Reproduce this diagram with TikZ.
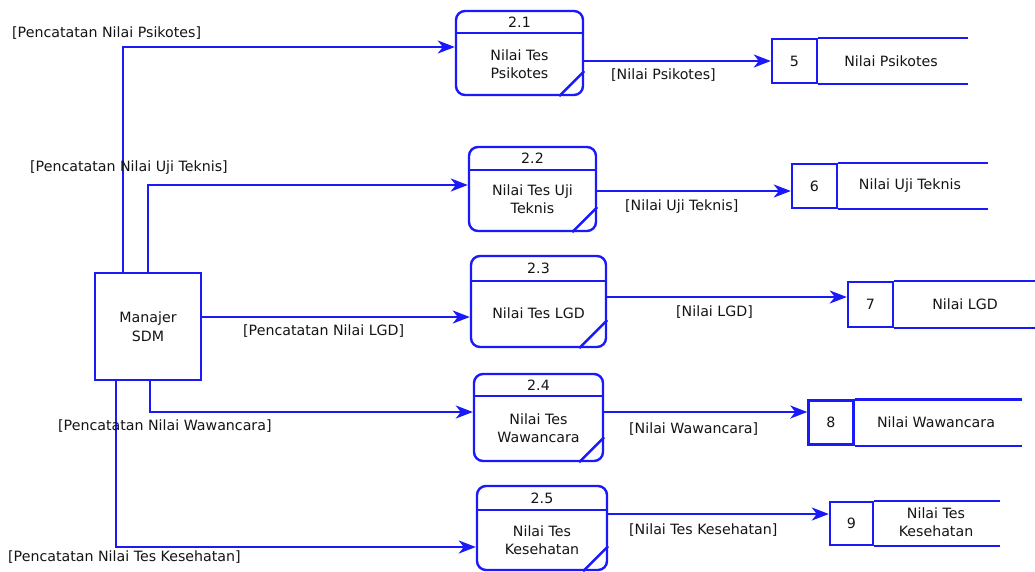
\documentclass[tikz,border=0pt]{standalone}
\usepackage{fontspec}
\setmainfont{DejaVu Sans}
\usetikzlibrary{arrows.meta}
\definecolor{dfdblue}{RGB}{25,25,250}
\definecolor{txt}{RGB}{20,20,20}
\tikzset{
  ln/.style={draw=dfdblue, line width=2.4pt},
  proc/.style={draw=dfdblue, line width=2.4pt, rounded corners=9pt, inner sep=0pt},
  ent/.style={draw=dfdblue, line width=2.4pt, inner sep=0pt, minimum width=106pt, minimum height=107pt, align=center, text=txt},
  sid/.style={draw=dfdblue, line width=2.4pt, inner sep=0pt, minimum width=45pt, minimum height=44pt, text=txt},
  flow/.style={draw=dfdblue, line width=2.4pt, -{Stealth[length=17pt,width=13pt,inset=5pt]}},
  lbl/.style={anchor=west, inner sep=0pt, text=txt},
  ptext/.style={align=center, inner sep=0pt, text=txt},
}
\begin{document}
\begin{tikzpicture}[x=1pt,y=-1pt, font=\fontsize{14.2}{17}\selectfont]
\useasboundingbox (0,0) rectangle (1035,571);

% external entity
\node[ent] (e) at (148,326.5) {Manajer\\[2pt]SDM};

% processes
\node[proc, minimum width=127pt, minimum height=84pt] (p1) at (519.5,53) {};
\draw[ln] (p1.west |- 0,33) -- (p1.east |- 0,33);
\draw[ln] ([xshift=-25pt]p1.south east) -- ([yshift=25pt]p1.south east);
\node[ptext] (n1) at (519.5,22) {2.1};
\node[ptext] (t1) at (519.5,64) {Nilai Tes\\[1pt]Psikotes};

\node[proc, minimum width=127pt, minimum height=84pt] (p2) at (532.5,189) {};
\draw[ln] (p2.west |- 0,170) -- (p2.east |- 0,170);
\draw[ln] ([xshift=-25pt]p2.south east) -- ([yshift=25pt]p2.south east);
\node[ptext] (n2) at (532.5,158) {2.2};
\node[ptext] (t2) at (532.5,199) {Nilai Tes Uji\\[1pt]Teknis};

\node[proc, minimum width=135pt, minimum height=91pt] (p3) at (538.5,301.5) {};
\draw[ln] (p3.west |- 0,281) -- (p3.east |- 0,281);
\draw[ln] ([xshift=-28pt]p3.south east) -- ([yshift=28pt]p3.south east);
\node[ptext] (n3) at (538.5,268) {2.3};
\node[ptext] (t3) at (538.5,313) {Nilai Tes LGD};

\node[proc, minimum width=129pt, minimum height=87pt] (p4) at (538.5,417.5) {};
\draw[ln] (p4.west |- 0,396) -- (p4.east |- 0,396);
\draw[ln] ([xshift=-25pt]p4.south east) -- ([yshift=25pt]p4.south east);
\node[ptext] (n4) at (538.5,385) {2.4};
\node[ptext] (t4) at (538.5,428) {Nilai Tes\\[1pt]Wawancara};

\node[proc, minimum width=130pt, minimum height=84pt] (p5) at (542,528) {};
\draw[ln] (p5.west |- 0,510) -- (p5.east |- 0,510);
\draw[ln] ([xshift=-25pt]p5.south east) -- ([yshift=25pt]p5.south east);
\node[ptext] (n5) at (542,498) {2.5};
\node[ptext] (t5) at (542,540) {Nilai Tes\\[1pt]Kesehatan};

% data stores
\node[sid] (s5) at (794.5,61) {5};
\draw[ln] (s5.north east) -- ++(150,0);
\draw[ln] (s5.south east) -- ++(150,0);
\node[ptext] (d5) at (891,61) {Nilai Psikotes};

\node[sid] (s6) at (814.5,186) {6};
\draw[ln] (s6.north east) -- ++(150,0);
\draw[ln] (s6.south east) -- ++(150,0);
\node[ptext] (d6) at (910,186) {Nilai Uji Teknis};

\node[sid, minimum height=45pt] (s7) at (870.5,304.5) {7};
\draw[ln] (s7.north east) -- ++(145,0);
\draw[ln] (s7.south east) -- ++(145,0);
\node[ptext] (d7) at (965,304.5) {Nilai LGD};

\node[sid] (s8) at (831,422.5) {8};
\draw[ln] (s8.north east) -- ++(167,0);
\draw[ln] (s8.south east) -- ++(167,0);
\node[ptext] (d8) at (936,422.5) {Nilai Wawancara};

\node[sid, minimum width=43pt, minimum height=43pt] (s9) at (851.5,523.5) {9};
\draw[ln] (s9.north east) -- ++(126,0);
\draw[ln] (s9.south east) -- ++(126,0);
\node[ptext] (d9) at (936,522) {Nilai Tes\\[1pt]Kesehatan};

% flows from entity
\draw[flow] ([xshift=-25pt]e.north) |- ([yshift=6pt]p1.west);
\draw[flow] (e.north) |- ([yshift=4pt]p2.west);
\draw[flow] ([yshift=9.5pt]e.east) -- ([yshift=9.5pt]e.east -| p3.west);
\draw[flow] ([xshift=2pt]e.south) |- ([yshift=5.5pt]p4.west);
\draw[flow] ([xshift=-32pt]e.south) |- ([yshift=-19pt]p5.west);

% flows to stores
\draw[flow] ([yshift=-8pt]p1.east) -- ([yshift=-8pt]p1.east -| s5.west);
\draw[flow] ([yshift=-2pt]p2.east) -- ([yshift=-2pt]p2.east -| s6.west);
\draw[flow] ([yshift=4.5pt]p3.east) -- ([yshift=4.5pt]p3.east -| s7.west);
\draw[flow] ([yshift=5.5pt]p4.east) -- ([yshift=5.5pt]p4.east -| s8.west);
\draw[flow] ([yshift=14pt]p5.east) -- ([yshift=14pt]p5.east -| s9.west);

% flow labels
\node[lbl] (l1) at (12,33) {[Pencatatan Nilai Psikotes]};
\node[lbl] (l2) at (30,168) {[Pencatatan Nilai Uji Teknis]};
\node[lbl] (l3) at (243,331) {[Pencatatan Nilai LGD]};
\node[lbl] (l4) at (58,426) {[Pencatatan Nilai Wawancara]};
\node[lbl] (l5) at (8,557) {[Pencatatan Nilai Tes Kesehatan]};
\node[lbl] (o1) at (611,75) {[Nilai Psikotes]};
\node[lbl] (o2) at (625,207) {[Nilai Uji Teknis]};
\node[lbl] (o3) at (676,312) {[Nilai LGD]};
\node[lbl] (o4) at (629,429) {[Nilai Wawancara]};
\node[lbl] (o5) at (629,530) {[Nilai Tes Kesehatan]};
\end{tikzpicture}
\end{document}
